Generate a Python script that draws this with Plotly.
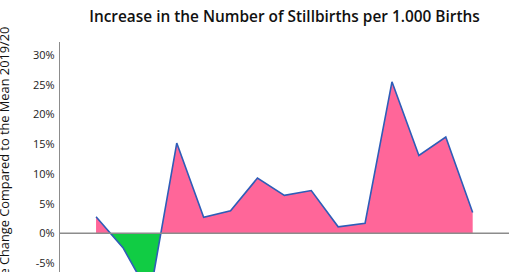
import plotly.graph_objects as go

# Data
periods = list(range(15))
values = [2.8, -2.4, -10.5, 15.2, 2.7, 3.8, 9.3, 6.4, 7.2, 1.1, 1.7, 25.5, 13.1, 16.2, 3.5]
tick_values = [-5, 0, 5, 10, 15, 20, 25, 30]
tick_labels = ["-5%", "0%", "5%", "10%", "15%", "20%", "25%", "30%"]
title_text = "Increase in the Number of Stillbirths per 1.000 Births"
y_title_text = "Percentage Change Compared to the Mean 2019/20"

# split the area into positive/negative parts (insert zero crossings)
px_, py_ = [], []
for i in range(len(values)):
    if i > 0:
        a, b = values[i - 1], values[i]
        if a * b < 0:
            t = a / (a - b)
            px_.append(periods[i - 1] + t * (periods[i] - periods[i - 1]))
            py_.append(0.0)
    px_.append(periods[i])
    py_.append(values[i])
pos = [max(v, 0) for v in py_]
neg = [min(v, 0) for v in py_]

PINK = "#FF6699"
GREEN = "#11CC44"
BLUE = "#2E5DB8"
GRAY = "#8C8C8C"

fig = go.Figure()
fig.add_trace(go.Scatter(x=px_, y=pos, mode="lines", line=dict(width=0, color=PINK),
                         fill="tozeroy", fillcolor=PINK, hoverinfo="skip"))
fig.add_trace(go.Scatter(x=px_, y=neg, mode="lines", line=dict(width=0, color=GREEN),
                         fill="tozeroy", fillcolor=GREEN, hoverinfo="skip"))
fig.add_trace(go.Scatter(x=periods, y=values, mode="lines", line=dict(width=1.6, color=BLUE)))

fig.add_shape(type="line", xref="paper", yref="y", x0=0, x1=1, y0=0, y1=0,
              line=dict(color=GRAY, width=1.5), layer="above")

fig.update_layout(
    width=520, height=272,
    margin=dict(l=60, r=11, t=42, b=0),
    paper_bgcolor="white", plot_bgcolor="white",
    showlegend=False,
    font=dict(family="Open Sans", color="#222222"),
    title=dict(text=title_text, x=0.5, xref="paper", xanchor="center",
               y=1 - 17 / 272, yanchor="middle",
               font=dict(size=15.4, family="Open Sans", weight=600, color="#111111")),
    xaxis=dict(range=[-1.34, 15.35], showgrid=False, zeroline=False, showline=False,
               showticklabels=False, ticks=""),
    yaxis=dict(range=[-6.5, 32.2], tickvals=tick_values, ticktext=tick_labels,
               showgrid=False, zeroline=False, showline=True, linecolor=GRAY, linewidth=1.2,
               ticks="", tickfont=dict(size=11, color="#222222"), ticklabelstandoff=2),
    annotations=[dict(text=y_title_text, textangle=-90, xref="paper", yref="paper",
                      x=(3 - 60) / 449, y=(272 - 25) / 230, xanchor="center", yanchor="top",
                      showarrow=False, font=dict(size=12.8, family="Open Sans", color="#111111"))],
)

fig.write_html("out.html")
